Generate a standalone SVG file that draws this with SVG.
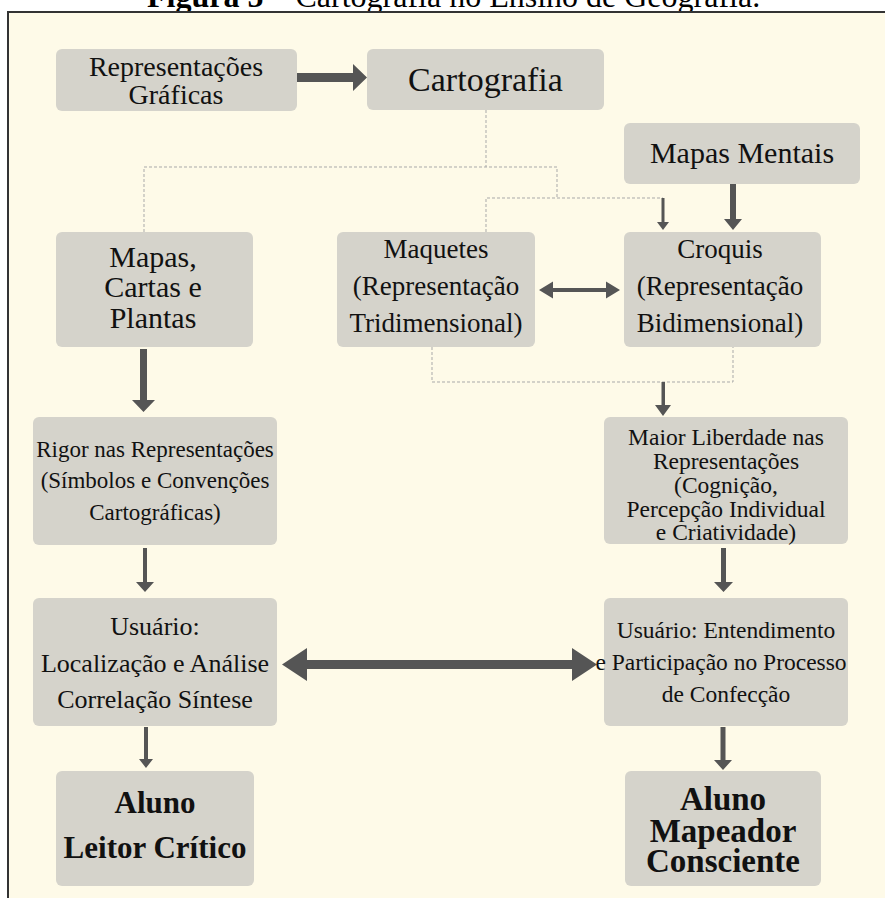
<svg xmlns="http://www.w3.org/2000/svg" width="885" height="898" viewBox="0 0 885 898">
<style>
.box{fill:#d5d3cb}
.t{fill:#111;text-anchor:middle}
.b{font-weight:bold}
.dash{fill:none;stroke:#a9a9a9;stroke-width:1;stroke-dasharray:3 2}
.arr{fill:#555}
</style>
<rect x="0" y="0" width="885" height="898" fill="#ffffff"/>
<text x="147" y="7" font-family="'Liberation Serif','Times New Roman',serif" font-size="32" fill="#000"><tspan font-weight="bold">Figura 5</tspan> – Cartografia no Ensino de Geografia.</text>
<rect x="8" y="12" width="900" height="900" fill="#fefae8" stroke="#333" stroke-width="2"/>

<g id="connectors">
  <path class="dash" d="M486,110 V167 M144,232 V167 H557 V198 M486,232 V198 H663"/>
  <path class="dash" d="M432,347 V382 H733 V347"/>
  <polygon class="arr" points="297,73 353,73 353,64 367,77.5 353,91 353,82 297,82"/>
  <polygon class="arr" points="661.5,198 664.5,198 664.5,222 669,222 663,230 657,222 661.5,222"/>
  <polygon class="arr" points="730,184 736,184 736,219 742,219 733,230 724,219 730,219"/>
  <polygon class="arr" points="539,290 553,281.5 553,288 606,288 606,281.5 620,290 606,298.5 606,292 553,292 553,298.5"/>
  <polygon class="arr" points="140,349 147,349 147,400 155,400 143.5,412 132,400 140,400"/>
  <polygon class="arr" points="143,548 147,548 147,582 154,582 145,592 136,582 143,582"/>
  <polygon class="arr" points="661.5,382 665,382 665,405 671,405 663,416 655,405 661.5,405"/>
  <polygon class="arr" points="721,548 726,548 726,582 733,582 723.5,592 714,582 721,582"/>
  <polygon class="arr" points="282,664.5 307,648 307,660 572,660 572,648 597,664.5 572,681 572,669 307,669 307,681"/>
  <polygon class="arr" points="144,727 148,727 148,759 153,759 146,768 139,759 144,759"/>
  <polygon class="arr" points="720.5,727 725.5,727 725.5,760 732,760 723,770 714,760 720.5,760"/>
</g>

<g id="rep">
  <rect class="box" x="56" y="49" width="241" height="62" rx="6"/>
  <text class="t" font-family="'Liberation Serif','Times New Roman',serif" font-size="28"><tspan x="176" y="76">Representações</tspan><tspan x="176" y="104">Gráficas</tspan></text>
</g>
<g id="cartografia">
  <rect class="box" x="367" y="49" width="237" height="61" rx="6"/>
  <text class="t" font-family="'Liberation Serif','Times New Roman',serif" font-size="34" x="485.5" y="91">Cartografia</text>
</g>
<g id="mentais">
  <rect class="box" x="624" y="123" width="236" height="61" rx="6"/>
  <text class="t" font-family="'Liberation Serif','Times New Roman',serif" font-size="30" x="742" y="163">Mapas Mentais</text>
</g>
<g id="mapas">
  <rect class="box" x="56" y="232" width="197" height="115" rx="6"/>
  <text class="t" font-family="'Liberation Serif','Times New Roman',serif" font-size="30"><tspan x="153" y="267">Mapas,</tspan><tspan x="153" y="297">Cartas e</tspan><tspan x="153" y="328">Plantas</tspan></text>
</g>
<g id="maquetes">
  <rect class="box" x="337" y="232" width="198" height="115" rx="6"/>
  <text class="t" font-family="'Liberation Serif','Times New Roman',serif" font-size="27"><tspan x="436" y="258">Maquetes</tspan><tspan x="436" y="295">(Representação</tspan><tspan x="436" y="332">Tridimensional)</tspan></text>
</g>
<g id="croquis">
  <rect class="box" x="624" y="232" width="197" height="115" rx="6"/>
  <text class="t" font-family="'Liberation Serif','Times New Roman',serif" font-size="27"><tspan x="720" y="258">Croquis</tspan><tspan x="720" y="295">(Representação</tspan><tspan x="720" y="332">Bidimensional)</tspan></text>
</g>
<g id="rigor">
  <rect class="box" x="33" y="417" width="244" height="128" rx="6"/>
  <text class="t" font-family="'Liberation Serif','Times New Roman',serif" font-size="23"><tspan x="155" y="457">Rigor nas Representações</tspan><tspan x="155" y="488">(Símbolos e Convenções</tspan><tspan x="155" y="520">Cartográficas)</tspan></text>
</g>
<g id="maior">
  <rect class="box" x="604" y="417" width="244" height="127" rx="6"/>
  <text class="t" font-family="'Liberation Serif','Times New Roman',serif" font-size="23.5"><tspan x="726" y="445">Maior Liberdade nas</tspan><tspan x="726" y="469">Representações</tspan><tspan x="726" y="493">(Cognição,</tspan><tspan x="726" y="517">Percepção Individual</tspan><tspan x="726" y="540">e Criatividade)</tspan></text>
</g>
<g id="usuarioL">
  <rect class="box" x="33" y="598" width="244" height="128" rx="6"/>
  <text class="t" font-family="'Liberation Serif','Times New Roman',serif" font-size="26"><tspan x="155" y="635">Usuário:</tspan><tspan x="155" y="672">Localização e Análise</tspan><tspan x="155" y="708">Correlação Síntese</tspan></text>
</g>
<g id="usuarioR">
  <rect class="box" x="604" y="598" width="244" height="128" rx="6"/>
  <text class="t" font-family="'Liberation Serif','Times New Roman',serif" font-size="23.5"><tspan x="726" y="638">Usuário: Entendimento</tspan><tspan x="721" y="670">e Participação no Processo</tspan><tspan x="726" y="702">de Confecção</tspan></text>
</g>
<g id="alunoL">
  <rect class="box" x="56" y="771" width="198" height="115" rx="6"/>
  <text class="t b" font-family="'Liberation Serif','Times New Roman',serif" font-size="31"><tspan x="155" y="813">Aluno</tspan><tspan x="155" y="858">Leitor Crítico</tspan></text>
</g>
<g id="alunoR">
  <rect class="box" x="625" y="771" width="196" height="115" rx="6"/>
  <text class="t b" font-family="'Liberation Serif','Times New Roman',serif" font-size="33"><tspan x="723" y="810">Aluno</tspan><tspan x="723" y="842">Mapeador</tspan><tspan x="723" y="872">Consciente</tspan></text>
</g>
</svg>
